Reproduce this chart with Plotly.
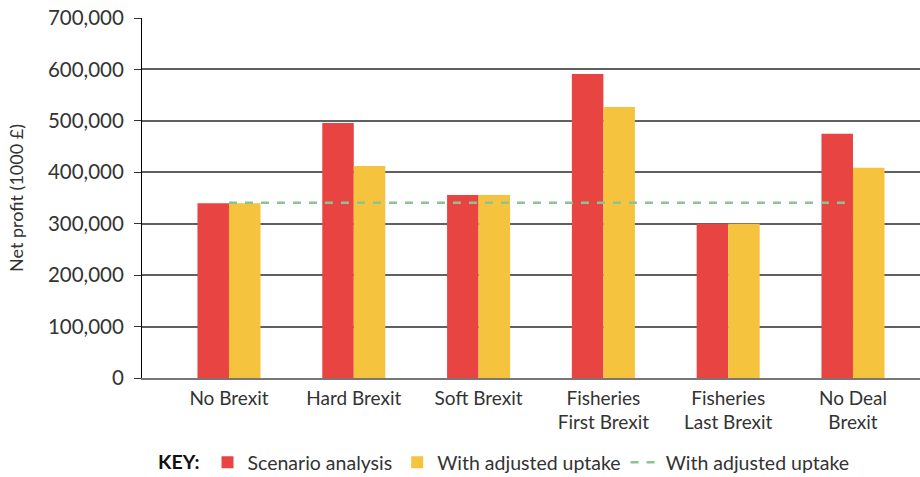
import plotly.graph_objects as go

categories = ["No Brexit", "Hard Brexit", "Soft Brexit",
              "Fisheries<br>First Brexit", "Fisheries<br>Last Brexit", "No Deal<br>Brexit"]
scenario = [340000, 496000, 356000, 591000, 300000, 475000]
adjusted = [340000, 412000, 356000, 527000, 300000, 409000]
baseline = [341000] * len(categories)
y_ticks = [0, 100000, 200000, 300000, 400000, 500000, 600000, 700000]
y_tick_labels = ["0", "100,000", "200,000", "300,000", "400,000", "500,000", "600,000", "700,000"]

RED = "#E84442"
YELLOW = "#F6C33E"
GREEN = "#88C494"
TEXT = "#333333"
FONT = "Lato"

fig = go.Figure()
fig.add_trace(go.Bar(x=categories, y=scenario, name="Scenario analysis",
                     marker=dict(color=RED, line=dict(width=0))))
fig.add_trace(go.Bar(x=categories, y=adjusted, name="With adjusted uptake",
                     marker=dict(color=YELLOW, line=dict(width=0))))
fig.add_trace(go.Scatter(x=categories, y=baseline, mode="lines", name="With adjusted uptake",
                         line=dict(color=GREEN, width=2.5, dash="8px,8px")))

fig.update_layout(
    width=920, height=477,
    margin=dict(l=142, r=0, t=18, b=99, autoexpand=False),
    paper_bgcolor="white", plot_bgcolor="white",
    font=dict(family=FONT, size=19, color=TEXT),
    barmode="group", bargap=0.495, bargroupgap=0,
    showlegend=True,
    legend=dict(orientation="h", xref="container", yref="container",
                x=0.549, y=0.03, xanchor="center", yanchor="middle",
                font=dict(family=FONT, size=19.5, color=TEXT),
                title=dict(text="<b>KEY:</b>", side="left",
                           font=dict(family=FONT, size=19.5, color="#111111")),
                itemwidth=30, tracegroupgap=0, traceorder="normal"),
)
fig.update_xaxes(type="category", range=[-0.697, 5.537],
                 showline=True, linecolor="#777777", linewidth=1.5,
                 showgrid=False, ticks="", ticklabelstandoff=2,
                 tickfont=dict(size=19, color=TEXT))
fig.update_yaxes(range=[0, 700000], tickvals=y_ticks, ticktext=y_tick_labels,
                 showline=True, linecolor="#000000", linewidth=1,
                 ticks="outside", ticklen=7, tickcolor="#333333", tickwidth=1,
                 ticklabelstandoff=6,
                 showgrid=True, gridcolor="#606060", gridwidth=1.5,
                 zeroline=False,
                 tickfont=dict(size=20.5, color=TEXT),
                 title=dict(text="Net profit (1000 £)", font=dict(size=18, color=TEXT), standoff=19))

fig.write_html("out.html", config={"displayModeBar": False},
               post_script="document.body.style.margin='0';document.body.style.padding='0';")
